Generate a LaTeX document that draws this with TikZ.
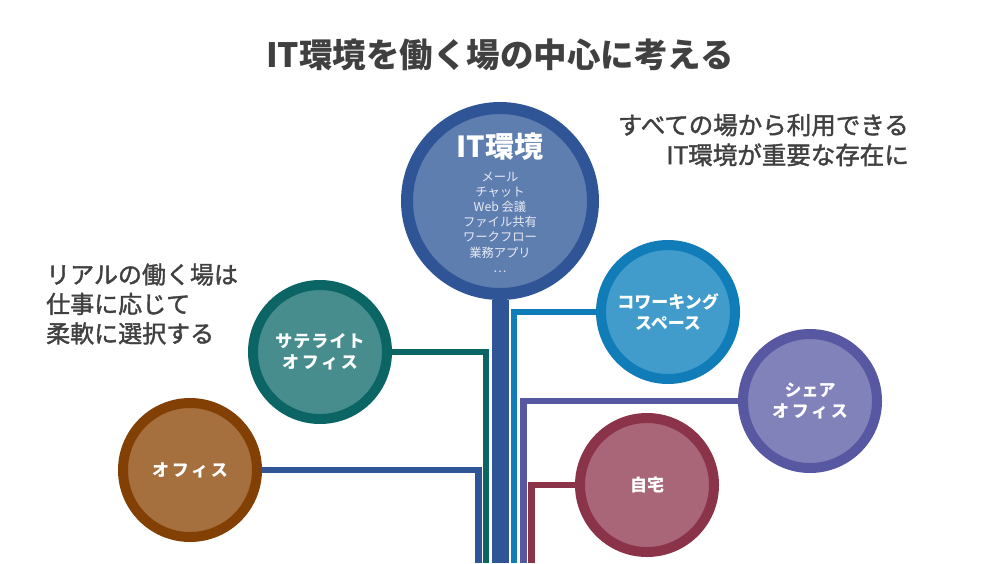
\documentclass[tikz,border=0pt]{standalone}
\usepackage{fontspec}
\setmainfont{Noto Sans CJK JP}
\newfontfamily\jpmed{Noto Sans CJK JP}[FakeBold=1.6]
\newcommand{\spaced}[1]{{\addfontfeature{LetterSpace=16}#1}}
\usetikzlibrary{backgrounds}
\definecolor{itring}{HTML}{2F5597}
\definecolor{itfill}{HTML}{5F7EB0}
\definecolor{itlisttxt}{HTML}{E6EBF4}
\definecolor{cwring}{HTML}{117DB8}
\definecolor{cwfill}{HTML}{429CCB}
\definecolor{shring}{HTML}{5857A2}
\definecolor{shfill}{HTML}{8282BA}
\definecolor{hmring}{HTML}{8B3349}
\definecolor{hmfill}{HTML}{A86678}
\definecolor{string}{HTML}{0C6565}
\definecolor{stfill}{HTML}{478D8E}
\definecolor{ofring}{HTML}{824005}
\definecolor{offill}{HTML}{A56F3E}
\definecolor{txt}{HTML}{404040}
\begin{document}
\begin{tikzpicture}[x=1pt,y=-1pt,
  place/.style={circle, inner sep=0pt, line width=10pt, minimum size=134pt,
    text=white, font=\fontsize{17}{21}\selectfont\bfseries, align=center},
  conn/.style={line width=6.5pt},
  plain/.style={inner sep=0pt, text=txt}]
\useasboundingbox (0,0) rectangle (1000,563);

% central circle
\node[place, draw=itring, fill=itfill, line width=12pt, minimum size=186pt] (it) at (500,201) {};
\node[inner sep=0pt, text=white, font=\fontsize{29}{32}\selectfont\bfseries] (ittitle) at (500,147) {IT環境};
\node[inner sep=0pt, text=itlisttxt, font=\fontsize{12.3}{15.2}\selectfont, align=center] (itlist) at (500,222)
  {メール\\チャット\\Web 会議\\ファイル共有\\ワークフロー\\業務アプリ\\…};

% places
\node[place, draw=cwring, fill=cwfill] (cw) at (668,312) {コワーキング\\スペース};
\node[place, draw=shring, fill=shfill] (sh) at (810,401) {シェア\\\spaced{オフィス}};
\node[place, draw=hmring, fill=hmfill] (hm) at (647,485) {自宅};
\node[place, draw=string, fill=stfill] (st) at (320,352) {{\addfontfeature{LetterSpace=6}サテライト}\\\spaced{オフィス}};
\node[place, draw=ofring, fill=offill] (of) at (190,470) {\spaced{オフィス}};

% bottom ends
\coordinate (trunkend) at (500,563);
\coordinate (cwend) at (514,563);
\coordinate (shend) at (523.5,563);
\coordinate (hmend) at (531.5,563);
\coordinate (stend) at (486,563);
\coordinate (ofend) at (478.5,563);

\begin{pgfonlayer}{background}
\draw[itring, line width=17pt] (it.south) -- (trunkend);
\draw[conn, cwring] (cw.west) -| (cwend);
\draw[conn, shring] (sh.west) -| (shend);
\draw[conn, hmring] (hm.west) -| (hmend);
\draw[conn, string] (st.east) -| (stend);
\draw[conn, itring] (of.east) -| (ofend);
\end{pgfonlayer}

% texts
\node[plain, font=\fontsize{33.5}{40}\selectfont\bfseries] (title) at (500,55) {IT環境を働く場の中心に考える};
\node[plain, font=\jpmed\fontsize{24.5}{30}\selectfont, align=right, anchor=east] (righttxt) at (909,140)
  {すべての場から利用できる\\IT環境が重要な存在に};
\node[plain, font=\jpmed\fontsize{24}{29.5}\selectfont, align=left, anchor=west] (lefttxt) at (46,304)
  {リアルの働く場は\\仕事に応じて\\柔軟に選択する};
\end{tikzpicture}
\end{document}
